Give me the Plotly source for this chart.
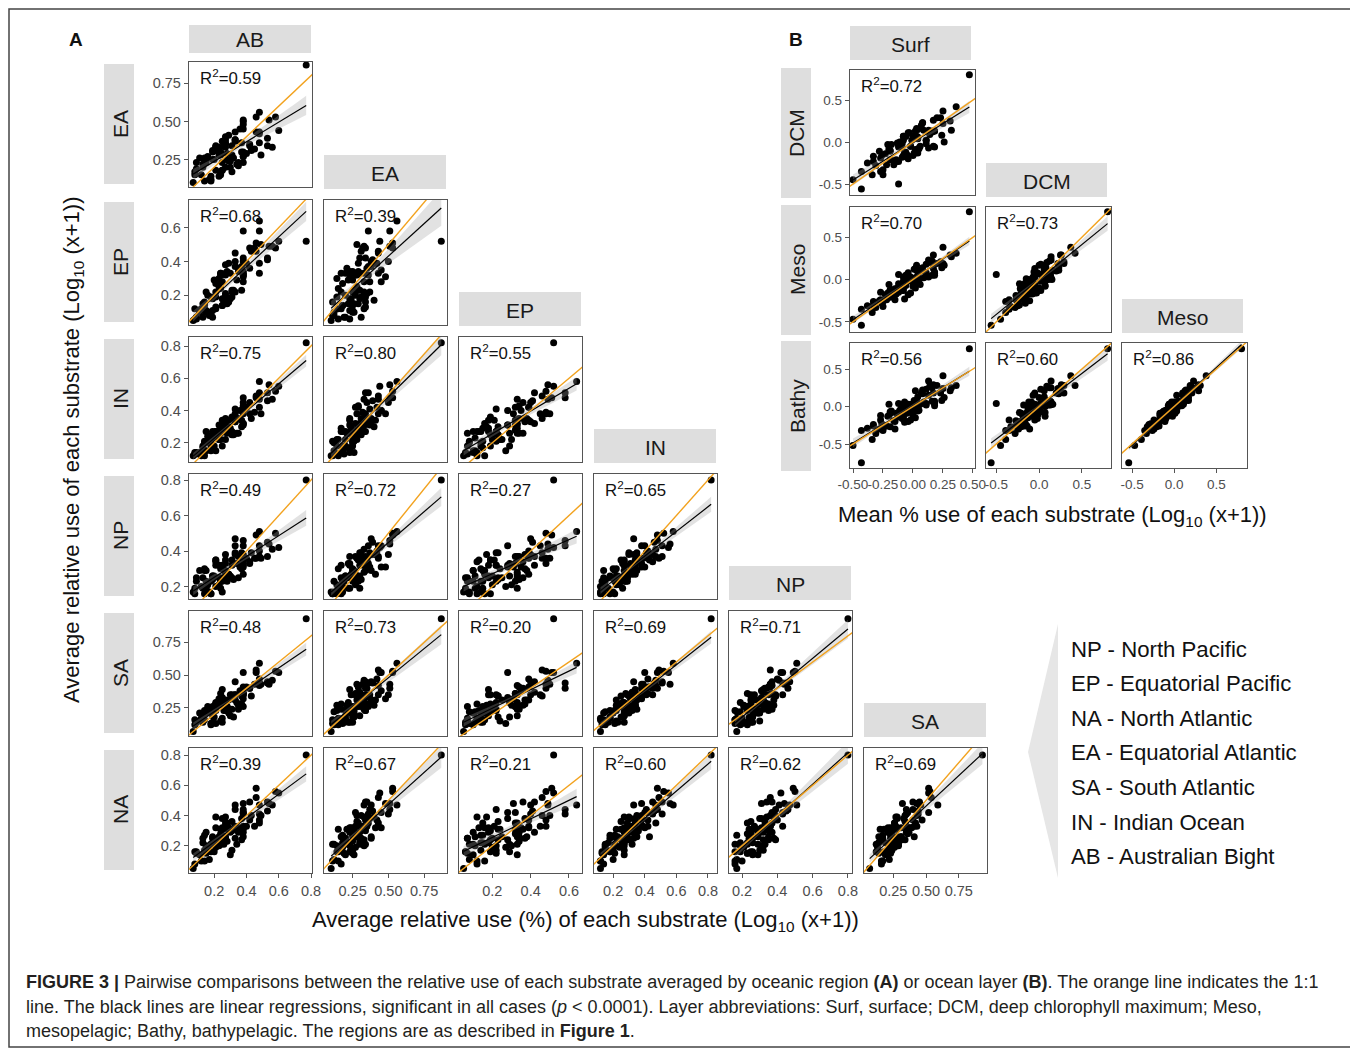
import numpy as np
import plotly.graph_objects as go

# page has an 8px body margin: the figure is drawn 8px in, so it is sized to end at the window edge
OFF = 8
FW, FH = 1350, 1041

# ---------------- DATA (panel A: one value per substrate per region) ----------------
regions = ["AB", "EA", "EP", "IN", "NP", "SA", "NA"]

AB = [0.77, 0.07,
      0.08, 0.14, 0.09, 0.18, 0.12, 0.09, 0.17, 0.21, 0.13, 0.18,
      0.25, 0.11, 0.23, 0.19, 0.15, 0.30, 0.19, 0.24, 0.16, 0.27,
      0.24, 0.15, 0.31, 0.23, 0.29, 0.21, 0.35, 0.26, 0.24, 0.38,
      0.23, 0.31, 0.35, 0.27, 0.21, 0.38, 0.33, 0.25, 0.37, 0.31,
      0.43, 0.29, 0.38, 0.27, 0.42, 0.36, 0.33, 0.49, 0.33, 0.42,
      0.48, 0.38, 0.33, 0.48, 0.56, 0.38, 0.46, 0.53, 0.46, 0.54,
      0.60, 0.48, 0.58, 0.14, 0.28, 0.27, 0.45, 0.28, 0.19, 0.38,
      0.21, 0.53, 0.20,
      0.08, 0.18, 0.15, 0.25, 0.14, 0.24, 0.32, 0.21, 0.30, 0.27,
      0.37, 0.25, 0.40, 0.38, 0.48, 0.38, 0.13, 0.34, 0.27, 0.38]
EA = [0.87, 0.10,
      0.15, 0.11, 0.19, 0.11, 0.15, 0.23, 0.12, 0.18, 0.20, 0.14,
      0.18, 0.26, 0.14, 0.25, 0.23, 0.20, 0.31, 0.15, 0.27, 0.20,
      0.30, 0.25, 0.17, 0.28, 0.24, 0.31, 0.21, 0.34, 0.28, 0.23,
      0.33, 0.28, 0.23, 0.38, 0.33, 0.27, 0.38, 0.23, 0.36, 0.34,
      0.31, 0.41, 0.29, 0.40, 0.34, 0.45, 0.37, 0.28, 0.43, 0.35,
      0.42, 0.50, 0.38, 0.43, 0.33, 0.51, 0.43, 0.39, 0.53, 0.51,
      0.44, 0.56, 0.53, 0.26, 0.25, 0.35, 0.32, 0.29, 0.30, 0.30,
      0.34, 0.34, 0.25,
      0.17, 0.12, 0.25, 0.18, 0.25, 0.17, 0.26, 0.33, 0.24, 0.36,
      0.30, 0.37, 0.29, 0.48, 0.36, 0.45, 0.22, 0.22, 0.33, 0.27]
EP = [0.52, 0.05,
      0.06, 0.16, 0.07, 0.08, 0.12, 0.06, 0.08, 0.27, 0.07, 0.19,
      0.14, 0.10, 0.30, 0.11, 0.11, 0.33, 0.07, 0.24, 0.20, 0.20,
      0.33, 0.10, 0.22, 0.25, 0.16, 0.19, 0.36, 0.16, 0.32, 0.32,
      0.28, 0.23, 0.34, 0.38, 0.12, 0.33, 0.37, 0.18, 0.37, 0.19,
      0.46, 0.39, 0.34, 0.17, 0.48, 0.35, 0.22, 0.50, 0.45, 0.36,
      0.39, 0.40, 0.40, 0.33, 0.49, 0.58, 0.46, 0.41, 0.51, 0.49,
      0.52, 0.64, 0.48, 0.15, 0.34, 0.21, 0.48, 0.15, 0.18, 0.42,
      0.13, 0.42, 0.29,
      0.12, 0.10, 0.22, 0.14, 0.14, 0.33, 0.23, 0.22, 0.18, 0.32,
      0.23, 0.28, 0.39, 0.31, 0.58, 0.28, 0.15, 0.29, 0.33, 0.32]
IN = [0.82, 0.12,
      0.13, 0.12, 0.13, 0.21, 0.12, 0.14, 0.20, 0.15, 0.18, 0.18,
      0.27, 0.14, 0.22, 0.23, 0.15, 0.27, 0.26, 0.22, 0.24, 0.22,
      0.26, 0.27, 0.27, 0.22, 0.30, 0.25, 0.26, 0.32, 0.28, 0.31,
      0.31, 0.25, 0.35, 0.35, 0.27, 0.32, 0.33, 0.34, 0.34, 0.36,
      0.35, 0.34, 0.43, 0.30, 0.38, 0.40, 0.41, 0.38, 0.38, 0.45,
      0.42, 0.45, 0.33, 0.47, 0.47, 0.48, 0.49, 0.46, 0.48, 0.56,
      0.55, 0.58, 0.52, 0.21, 0.26, 0.34, 0.39, 0.29, 0.27, 0.32,
      0.27, 0.51, 0.18,
      0.14, 0.15, 0.21, 0.18, 0.20, 0.29, 0.25, 0.27, 0.29, 0.34,
      0.30, 0.31, 0.42, 0.38, 0.51, 0.40, 0.17, 0.26, 0.31, 0.42]
NP = [0.80, 0.17,
      0.19, 0.16, 0.23, 0.16, 0.20, 0.25, 0.17, 0.20, 0.25, 0.16,
      0.23, 0.29, 0.21, 0.26, 0.19, 0.26, 0.24, 0.30, 0.21, 0.26,
      0.19, 0.29, 0.32, 0.25, 0.27, 0.35, 0.25, 0.29, 0.23, 0.33,
      0.32, 0.25, 0.37, 0.29, 0.34, 0.27, 0.38, 0.32, 0.30, 0.35,
      0.39, 0.27, 0.35, 0.38, 0.33, 0.31, 0.39, 0.36, 0.43, 0.34,
      0.40, 0.38, 0.47, 0.37, 0.41, 0.46, 0.36, 0.45, 0.49, 0.44,
      0.42, 0.51, 0.50, 0.29, 0.24, 0.35, 0.36, 0.23, 0.26, 0.32,
      0.35, 0.37, 0.26,
      0.16, 0.23, 0.23, 0.17, 0.30, 0.25, 0.24, 0.32, 0.25, 0.33,
      0.39, 0.31, 0.36, 0.31, 0.43, 0.43, 0.19, 0.33, 0.28, 0.37]
SA = [0.93, 0.07,
      0.12, 0.16, 0.14, 0.13, 0.17, 0.14, 0.22, 0.13, 0.17, 0.23,
      0.14, 0.21, 0.27, 0.14, 0.22, 0.19, 0.26, 0.15, 0.26, 0.23,
      0.29, 0.21, 0.24, 0.31, 0.21, 0.28, 0.27, 0.23, 0.36, 0.26,
      0.32, 0.34, 0.24, 0.31, 0.28, 0.35, 0.31, 0.39, 0.28, 0.35,
      0.34, 0.31, 0.41, 0.27, 0.40, 0.38, 0.35, 0.43, 0.35, 0.40,
      0.47, 0.35, 0.45, 0.42, 0.46, 0.40, 0.54, 0.44, 0.52, 0.43,
      0.52, 0.59, 0.53, 0.23, 0.26, 0.27, 0.43, 0.26, 0.19, 0.37,
      0.23, 0.45, 0.18,
      0.16, 0.12, 0.23, 0.17, 0.21, 0.28, 0.18, 0.29, 0.35, 0.26,
      0.34, 0.33, 0.41, 0.32, 0.44, 0.52, 0.14, 0.29, 0.24, 0.36]
NA = [0.80, 0.05,
      0.16, 0.10, 0.15, 0.21, 0.10, 0.16, 0.11, 0.19, 0.25, 0.16,
      0.22, 0.14, 0.20, 0.26, 0.20, 0.14, 0.25, 0.31, 0.19, 0.25,
      0.21, 0.29, 0.17, 0.26, 0.32, 0.24, 0.31, 0.21, 0.28, 0.31,
      0.24, 0.36, 0.29, 0.26, 0.39, 0.33, 0.25, 0.32, 0.38, 0.30,
      0.40, 0.32, 0.26, 0.39, 0.37, 0.32, 0.44, 0.40, 0.33, 0.49,
      0.37, 0.41, 0.47, 0.35, 0.47, 0.44, 0.52, 0.43, 0.58, 0.48,
      0.55, 0.47, 0.56, 0.27, 0.23, 0.33, 0.33, 0.35, 0.22, 0.29,
      0.32, 0.49, 0.16,
      0.08, 0.21, 0.15, 0.27, 0.17, 0.26, 0.31, 0.20, 0.29, 0.35,
      0.24, 0.38, 0.33, 0.48, 0.41, 0.42, 0.22, 0.21, 0.31, 0.42]

# R^2 labels as printed in each panel (row region vs column region)
r2_A = {
    ("EA", "AB"): "0.59",
    ("EP", "AB"): "0.68", ("EP", "EA"): "0.39",
    ("IN", "AB"): "0.75", ("IN", "EA"): "0.80", ("IN", "EP"): "0.55",
    ("NP", "AB"): "0.49", ("NP", "EA"): "0.72", ("NP", "EP"): "0.27", ("NP", "IN"): "0.65",
    ("SA", "AB"): "0.48", ("SA", "EA"): "0.73", ("SA", "EP"): "0.20", ("SA", "IN"): "0.69",
    ("SA", "NP"): "0.71",
    ("NA", "AB"): "0.39", ("NA", "EA"): "0.67", ("NA", "EP"): "0.21", ("NA", "IN"): "0.60",
    ("NA", "NP"): "0.62", ("NA", "SA"): "0.69",
}

# axis ticks per region
ticks_A = {
    "AB": ([0.2, 0.4, 0.6, 0.8], ["0.2", "0.4", "0.6", "0.8"]),
    "EA": ([0.25, 0.5, 0.75], ["0.25", "0.50", "0.75"]),
    "EP": ([0.2, 0.4, 0.6], ["0.2", "0.4", "0.6"]),
    "IN": ([0.2, 0.4, 0.6, 0.8], ["0.2", "0.4", "0.6", "0.8"]),
    "NP": ([0.2, 0.4, 0.6, 0.8], ["0.2", "0.4", "0.6", "0.8"]),
    "SA": ([0.25, 0.5, 0.75], ["0.25", "0.50", "0.75"]),
    "NA": ([0.2, 0.4, 0.6, 0.8], ["0.2", "0.4", "0.6", "0.8"]),
}
xrange_A = {"AB": [0.044, 0.806], "EA": [0.05, 0.91], "EP": [0.026, 0.668],
            "IN": [0.079, 0.857], "NP": [0.126, 0.823], "SA": [0.027, 0.965]}
yrange_A = {"EA": [0.07, 0.89], "EP": [0.024, 0.764], "IN": [0.081, 0.856],
            "NP": [0.13, 0.834], "SA": [0.035, 0.99], "NA": [0.02, 0.847]}

# ---------------- DATA (panel B: one value per substrate per layer) ----------------
layers = ["Surf", "DCM", "Meso", "Bathy"]
Surf = [0.47, -0.43, -0.50,
        -0.43, -0.34, -0.38, -0.27, -0.31, -0.33, -0.25, -0.19, -0.27, -0.22,
        -0.14, -0.28, -0.16, -0.19, -0.23, -0.07, -0.18, -0.12, -0.20, -0.08,
        -0.12, -0.20, -0.04, -0.12, -0.06, -0.13, 0.00, -0.08, -0.10, 0.04,
        -0.11, -0.02, 0.01, -0.06, -0.12, 0.05, 0.00, -0.07, 0.04, -0.01,
        0.11, -0.03, 0.06, -0.04, 0.11, 0.04, 0.02, 0.18, 0.02, 0.11,
        0.18, 0.08, 0.03, 0.18, 0.26, 0.08, 0.16, 0.24, 0.17, 0.25,
        0.32, 0.20, 0.31, 0.25, 0.36, -0.19, 0.02, 0.04, 0.07, -0.15,
        -0.08, 0.17, -0.09,
        -0.25, -0.26, -0.15, -0.21, -0.09, -0.02, -0.08, 0.05, -0.06, 0.02,
        0.01, 0.13, 0.03, 0.16, 0.14, 0.23, -0.33, -0.05, 0.09, 0.13]
DCM = [0.80, -0.56, -0.45,
       -0.35, -0.39, -0.25, -0.35, -0.28, -0.17, -0.33, -0.21, -0.19, -0.27,
       -0.21, -0.11, -0.27, -0.11, -0.14, -0.17, -0.03, -0.23, -0.08, -0.16,
       -0.04, -0.10, -0.20, -0.06, -0.12, -0.01, -0.16, 0.02, -0.06, -0.13,
       0.00, -0.05, -0.13, 0.07, -0.50, -0.07, 0.07, -0.12, 0.04, 0.02,
       -0.02, 0.11, -0.05, 0.11, 0.02, 0.15, 0.06, -0.06, 0.13, 0.02,
       0.13, 0.23, 0.07, 0.13, 0.00, 0.23, 0.12, 0.08, 0.26, 0.22,
       0.14, 0.29, 0.25, 0.37, 0.42, -0.10, -0.13, 0.06, 0.20, -0.24,
       0.07, -0.05, -0.02,
       -0.39, -0.16, -0.22, -0.03, -0.18, -0.05, 0.07, -0.08, 0.07, -0.09,
       0.07, -0.07, 0.16, 0.13, 0.09, 0.29, -0.23, -0.15, 0.14, 0.14]
Meso = [0.80, -0.54, -0.47,
        -0.35, -0.39, -0.31, -0.24, -0.33, -0.26, -0.32, -0.21, -0.15, -0.24,
        -0.17, -0.25, -0.19, -0.12, -0.18, -0.23, -0.12, -0.05, -0.17, -0.10,
        -0.15, -0.06, -0.18, -0.09, -0.03, -0.10, -0.04, -0.13, -0.06, -0.03,
        -0.10, 0.03, -0.05, -0.07, 0.06, 0.00, -0.08, 0.00, 0.05, -0.02,
        0.08, 0.00, -0.06, 0.08, 0.06, 0.00, 0.13, 0.09, 0.02, 0.18,
        0.07, 0.11, 0.17, 0.05, 0.17, 0.14, 0.22, 0.14, 0.29, 0.19,
        0.27, 0.19, 0.29, 0.38, 0.31, -0.13, -0.10, 0.11, 0.10, -0.24,
        0.03, 0.13, -0.13,
        -0.26, -0.28, -0.11, -0.16, -0.06, -0.16, -0.02, -0.04, 0.05, -0.03,
        0.12, 0.03, 0.11, 0.05, 0.20, 0.21, -0.30, 0.01, 0.02, 0.23]
Bathy = [0.77, -0.75, -0.52,
         -0.32, -0.44, -0.29, -0.18, -0.36, -0.26, -0.27, -0.27, -0.12, -0.26,
         -0.09, -0.30, -0.19, -0.09, -0.26, -0.21, -0.06, -0.08, -0.12, -0.16,
         -0.13, 0.03, -0.20, -0.14, 0.00, -0.10, -0.12, -0.07, -0.04, -0.06,
         -0.05, -0.06, -0.02, 0.01, 0.04, -0.05, -0.08, 0.06, 0.02, 0.03,
         0.02, 0.02, 0.03, 0.03, 0.04, 0.03, 0.21, 0.01, 0.02, 0.23,
         0.04, 0.17, 0.08, 0.07, 0.12, 0.22, 0.25, 0.08, 0.29, 0.24,
         0.25, 0.28, 0.21, 0.41, 0.28, -0.07, -0.15, 0.13, 0.18, -0.30,
         0.03, 0.18, -0.16,
         -0.32, -0.23, -0.20, -0.13, 0.02, -0.18, -0.13, 0.02, 0.00, 0.06,
         0.08, 0.15, 0.03, 0.07, 0.27, 0.18, -0.24, -0.09, 0.06, 0.34]

r2_B = {("DCM", "Surf"): "0.72",
        ("Meso", "Surf"): "0.70", ("Meso", "DCM"): "0.73",
        ("Bathy", "Surf"): "0.56", ("Bathy", "DCM"): "0.60", ("Bathy", "Meso"): "0.86"}
ticks_B = {
    "Surf": ([-0.5, -0.25, 0, 0.25, 0.5], ["-0.50", "-0.25", "0.00", "0.25", "0.50"]),
    "DCM": ([-0.5, 0, 0.5], ["-0.5", "0.0", "0.5"]),
    "Meso": ([-0.5, 0, 0.5], ["-0.5", "0.0", "0.5"]),
    "Bathy": ([-0.5, 0, 0.5], ["-0.5", "0.0", "0.5"]),
}
xrange_B = {"Surf": [-0.525, 0.517], "DCM": [-0.62, 0.84], "Meso": [-0.62, 0.865]}
yrange_B = {"DCM": [-0.63, 0.857], "Meso": [-0.62, 0.857], "Bathy": [-0.82, 0.847]}

legend_lines = ["NP - North Pacific", "EP - Equatorial Pacific", "NA - North Atlantic",
                "EA - Equatorial Atlantic", "SA - South Atlantic", "IN - Indian Ocean",
                "AB - Australian Bight"]

data_A = dict(zip(regions, [AB, EA, EP, IN, NP, SA, NA]))
data_B = dict(zip(layers, [Surf, DCM, Meso, Bathy]))

# ---------------- STYLE / GEOMETRY ----------------
FONT = "Liberation Sans, Arial, sans-serif"
ORANGE = "#F2A21E"
STRIP = "#dedede"
BORDER = "#555555"
TICKC = "#4d4d4d"


def X(px):
    return (px - OFF) / FW


def Y(py):
    return 1 - (py - OFF) / FH


fig = go.Figure()
layout = {}
shapes = []
annotations = []


def fit(x, y):
    x = np.asarray(x, float)
    y = np.asarray(y, float)
    n = len(x)
    b, a = np.polyfit(x, y, 1)
    xs = np.linspace(x.min(), x.max(), 60)
    yh = a + b * xs
    s = np.sqrt(((y - (a + b * x)) ** 2).sum() / (n - 2))
    sxx = ((x - x.mean()) ** 2).sum()
    se = s * np.sqrt(1.0 / n + (xs - x.mean()) ** 2 / sxx)
    return xs, yh, yh - 1.99 * se, yh + 1.99 * se


panel_k = [0]


def add_panel(x, y, left, top, w, h, xr, yr, xt, yt, show_x, show_y, r2, tick_size):
    panel_k[0] += 1
    k = panel_k[0]
    sfx = "" if k == 1 else str(k)
    xa, ya = "x" + sfx, "y" + sfx
    common = dict(showgrid=False, zeroline=False, showline=True, mirror=True,
                  linecolor=BORDER, linewidth=1.4, ticks="outside", ticklen=4,
                  tickwidth=1, tickcolor=BORDER, automargin=False,
                  tickfont=dict(family=FONT, size=tick_size, color=TICKC))
    xd = dict(common, domain=[X(left), X(left + w)], anchor=ya, range=xr,
              tickvals=xt[0], ticktext=xt[1], tickangle=0)
    yd = dict(common, domain=[Y(top + h), Y(top)], anchor=xa, range=yr,
              tickvals=yt[0], ticktext=yt[1])
    if not show_x:
        xd.update(ticks="", showticklabels=False)
    if not show_y:
        yd.update(ticks="", showticklabels=False)
    layout["xaxis" + sfx] = xd
    layout["yaxis" + sfx] = yd

    xs, yh, lo, hi = fit(x, y)
    fig.add_trace(go.Scatter(x=list(x), y=list(y), mode="markers", xaxis=xa, yaxis=ya,
                             marker=dict(color="black", size=7, line=dict(width=0)),
                             hoverinfo="skip"))
    fig.add_trace(go.Scatter(x=np.concatenate([xs, xs[::-1]]), y=np.concatenate([hi, lo[::-1]]),
                             fill="toself", fillcolor="rgba(160,160,160,0.30)",
                             line=dict(width=0), mode="lines", xaxis=xa, yaxis=ya,
                             hoverinfo="skip"))
    fig.add_trace(go.Scatter(x=xs, y=yh, mode="lines", xaxis=xa, yaxis=ya,
                             line=dict(color="black", width=1.2), hoverinfo="skip"))
    lo1 = min(xr[0], yr[0])
    hi1 = max(xr[1], yr[1])
    fig.add_trace(go.Scatter(x=[lo1, hi1], y=[lo1, hi1], mode="lines", xaxis=xa, yaxis=ya,
                             line=dict(color=ORANGE, width=1.4), hoverinfo="skip"))
    annotations.append(dict(x=X(left + 9), y=Y(top + 15), xref="paper", yref="paper",
                            xanchor="left", yanchor="middle", showarrow=False,
                            text="R<sup>2</sup>=" + r2,
                            font=dict(family=FONT, size=16.8, color="#111111")))


def strip_top(x0, x1, y0, y1, text):
    shapes.append(dict(type="rect", xref="paper", yref="paper", x0=X(x0), x1=X(x1),
                       y0=Y(y1), y1=Y(y0), fillcolor=STRIP, line=dict(width=0), layer="below"))
    annotations.append(dict(x=X((x0 + x1) / 2), y=Y((y0 + y1) / 2 + 1), xref="paper", yref="paper",
                            showarrow=False, text=text, xanchor="center", yanchor="middle",
                            font=dict(family=FONT, size=21, color="#1a1a1a")))


def strip_left(x0, x1, y0, y1, text):
    shapes.append(dict(type="rect", xref="paper", yref="paper", x0=X(x0), x1=X(x1),
                       y0=Y(y1), y1=Y(y0), fillcolor=STRIP, line=dict(width=0), layer="below"))
    annotations.append(dict(x=X((x0 + x1) / 2 + 1), y=Y((y0 + y1) / 2), xref="paper", yref="paper",
                            showarrow=False, text=text, textangle=-90, xanchor="center",
                            yanchor="middle", font=dict(family=FONT, size=21, color="#1a1a1a")))


# ---------------- PANEL A ----------------
colx = [189, 324, 459, 594, 729, 864]
rowy = [62, 200, 337, 474, 611, 748]
PW, PH = 123, 125
rows_A = regions[1:]
cols_A = regions[:-1]
for i, rr in enumerate(rows_A):
    for j, cc in enumerate(cols_A):
        if j > i:
            continue
        add_panel(data_A[cc], data_A[rr], colx[j], rowy[i], PW, PH,
                  xrange_A[cc], yrange_A[rr], ticks_A[cc], ticks_A[rr],
                  show_x=(i == len(rows_A) - 1), show_y=(j == 0),
                  r2=r2_A[(rr, cc)], tick_size=14.5)
for j, cc in enumerate(cols_A):
    if j == 0:
        strip_top(colx[j], colx[j] + 122, 25, 53, cc)
    else:
        strip_top(colx[j], colx[j] + 122, rowy[j] - 45, rowy[j] - 11, cc)
for i, rr in enumerate(rows_A):
    strip_left(104, 134, rowy[i] + 2, rowy[i] + PH - 3, rr)

# ---------------- PANEL B ----------------
colxB = [850, 986, 1122]
rowyB = [70, 207, 343]
PWB, PHB = 125, 125
rows_B = layers[1:]
cols_B = layers[:-1]
for i, rr in enumerate(rows_B):
    for j, cc in enumerate(cols_B):
        if j > i:
            continue
        add_panel(data_B[cc], data_B[rr], colxB[j], rowyB[i], PWB, PHB,
                  xrange_B[cc], yrange_B[rr], ticks_B[cc], ticks_B[rr],
                  show_x=(i == len(rows_B) - 1), show_y=(j == 0),
                  r2=r2_B[(rr, cc)], tick_size=13.5)
for j, cc in enumerate(cols_B):
    strip_top(colxB[j], colxB[j] + 121, rowyB[j] - 44, rowyB[j] - 10, cc)
for i, rr in enumerate(rows_B):
    strip_left(781, 811, rowyB[i] - 2, rowyB[i] + PHB + 3, rr)

# ---------------- TEXT ----------------
def txt(x, y, text, size, anchor="center", angle=0, color="#111111", family=FONT):
    annotations.append(dict(x=X(x), y=Y(y), xref="paper", yref="paper", showarrow=False,
                            text=text, xanchor=anchor, yanchor="middle", textangle=angle,
                            font=dict(family=family, size=size, color=color)))


txt(76, 40, "<b>A</b>", 19)
txt(796, 40, "<b>B</b>", 19)
txt(585, 921, "Average relative use (%) of each substrate (Log<sub>10</sub> (x+1))", 22)
txt(73, 450, "Average relative use of each substrate (Log<sub>10</sub> (x+1))", 22, angle=-90)
txt(1052, 516, "Mean % use of each substrate (Log<sub>10</sub> (x+1))", 22)

# legend triangle + lines
shapes.append(dict(type="path", xref="paper", yref="paper",
                   path=f"M {X(1058)},{Y(624)} L {X(1058)},{Y(878)} L {X(1028)},{Y(752)} Z",
                   fillcolor="#e6e6e6", line=dict(width=0), layer="below"))
for n, line in enumerate(legend_lines):
    txt(1069, 649 + n * 34.6, line, 22.2, anchor="left")

# caption
cap1 = ("<b>FIGURE 3 |</b> Pairwise comparisons between the relative use of each substrate averaged by "
        "oceanic region <b>(A)</b> or ocean layer <b>(B)</b>. The orange line indicates the 1:1")
cap2 = ("line. The black lines are linear regressions, significant in all cases (<i>p</i> &lt; 0.0001). "
        "Layer abbreviations: Surf, surface; DCM, deep chlorophyll maximum; Meso,")
cap3 = ("mesopelagic; Bathy, bathypelagic. The regions are as described in <b>Figure 1</b>.")
txt(24, 982, cap1, 18, anchor="left", color="#231f20")
txt(24, 1007, cap2, 18, anchor="left", color="#231f20")
txt(24, 1031, cap3, 18, anchor="left", color="#231f20")

# outer frame
shapes.append(dict(type="rect", xref="paper", yref="paper", x0=X(9), x1=X(1352),
                   y0=Y(1047), y1=Y(9), line=dict(color="#444444", width=1.5),
                   fillcolor="rgba(0,0,0,0)", layer="above"))

layout.update(width=FW, height=FH, autosize=False, showlegend=False,
              margin=dict(l=0, r=0, t=0, b=0, pad=0), paper_bgcolor="white",
              plot_bgcolor="white", shapes=shapes, annotations=annotations)
fig.update_layout(**layout)
fig.write_html("out.html", config={"displayModeBar": False, "responsive": False})
